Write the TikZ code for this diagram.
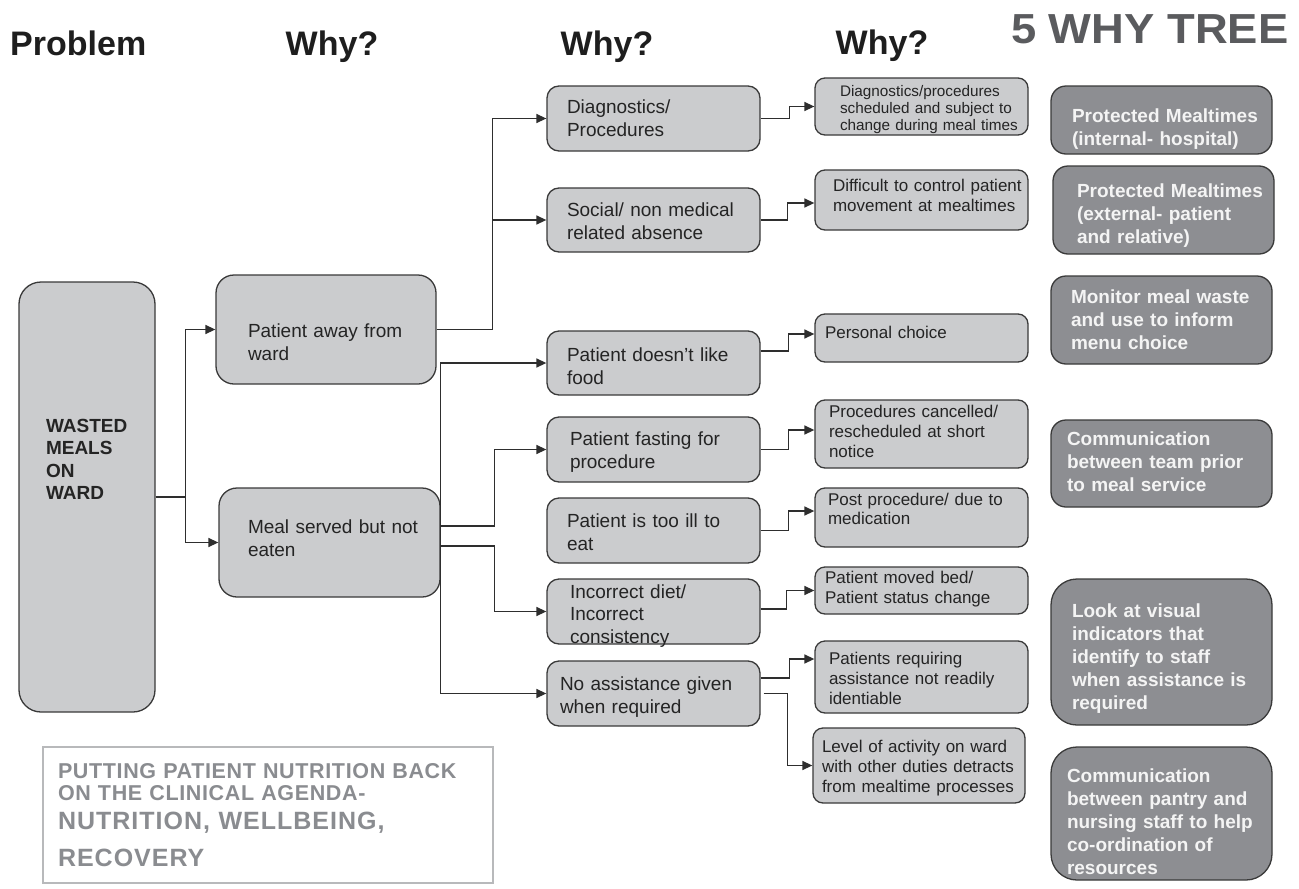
\documentclass[tikz,border=0pt]{standalone}
\usepackage{fontspec}
\setmainfont{Liberation Sans}
\usepackage{graphicx}
\usetikzlibrary{arrows.meta}
\definecolor{boxfill}{HTML}{CBCCCE}
\definecolor{rfill}{HTML}{8D8E92}
\definecolor{edge}{HTML}{3A3A3A}
\definecolor{txt}{HTML}{242424}
\definecolor{hdrc}{HTML}{1E1E1E}
\definecolor{titlec}{HTML}{5A5B5E}
\definecolor{grayt}{HTML}{8A8C90}
\definecolor{framec}{HTML}{B8B9BB}
\definecolor{linec}{HTML}{2E2E2E}
\definecolor{rtext}{HTML}{F4F4F4}
\tikzset{
  basebox/.style={draw=edge, line width=1.3pt, inner xsep=0pt, inner ysep=0pt, align=left},
  pbox/.style={basebox, fill=boxfill, text=txt, rounded corners=22pt, font=\bfseries\fontsize{19}{22.5}\selectfont},
  bbox/.style={basebox, fill=boxfill, text=txt, rounded corners=18pt, font=\fontsize{19}{23}\selectfont},
  cbox/.style={basebox, fill=boxfill, text=txt, rounded corners=12pt, minimum width=213pt, font=\fontsize{19}{23.5}\selectfont},
  ebox/.style={basebox, fill=boxfill, text=txt, rounded corners=10pt, font=\fontsize{17}{20}\selectfont},
  rbox/.style={basebox, fill=rfill, text=rtext, minimum width=221pt, font=\bfseries\fontsize{19}{23}\selectfont},
  hdr/.style={text=hdrc, inner sep=0pt, font=\bfseries\fontsize{34}{38}\selectfont},
  conn/.style={draw=linec, line width=1.4pt, -{Triangle[length=10pt,width=9pt]}},
}
\begin{document}
\begin{tikzpicture}[x=1pt,y=-1pt]
\useasboundingbox[fill=white] (0,0) rectangle (1299,889);

% headers
\node[hdr, anchor=base west] (hprob) at (10,55) {Problem};
\node[hdr, anchor=base] (hwhy1) at (332,55) {Why?};
\node[hdr, anchor=base] (hwhy2) at (607,55) {Why?};
\node[hdr, anchor=base] (hwhy3) at (882,54) {Why?};
\node[anchor=base west, inner sep=0pt, text=titlec, font=\bfseries\fontsize{42}{48}\selectfont] (title) at (1011,43) {\scalebox{1.08}[1]{5 WHY TREE}};

% problem
\node[pbox, minimum width=136pt, text width=82pt, text height=150pt, text depth=280pt] (a) at (87,497)
  {\mbox{WASTED}\\\mbox{MEALS}\\\mbox{ON}\\\mbox{WARD}};

% column 2
\node[bbox, minimum width=220pt, text width=156pt, text height=62pt, text depth=47pt] (b1) at (326,329.5)
  {\mbox{Patient away from}\\\mbox{ward}};
\node[bbox, minimum width=221pt, text width=163pt, text height=45pt, text depth=64pt] (b2) at (329.5,542.5)
  {\mbox{Meal served but not}\\\mbox{eaten}};

% column 3
\node[cbox, text width=173pt, text height=27pt, text depth=38pt] (c1) at (653.5,118.5)
  {\mbox{Diagnostics/}\\\mbox{Procedures}};
\node[cbox, text width=173pt, text height=28pt, text depth=36pt] (c2) at (653.5,220)
  {\mbox{Social/ non medical}\\\mbox{related absence}};
\node[cbox, text width=173pt, text height=30pt, text depth=34pt] (c3) at (653.5,363)
  {\mbox{Patient doesn’t like}\\\mbox{food}};
\node[cbox, text width=167pt, text height=28pt, text depth=37pt] (c4) at (653.5,449.5)
  {\mbox{Patient fasting for}\\\mbox{procedure}};
\node[cbox, text width=173pt, text height=29pt, text depth=36pt] (c5) at (653.5,530.5)
  {\mbox{Patient is too ill to}\\\mbox{eat}};
\node[cbox, text width=167pt, text height=19pt, text depth=46pt, font=\fontsize{19}{22.5}\selectfont] (c6) at (653.5,611.5)
  {\mbox{Incorrect diet/}\\\mbox{Incorrect}\\\mbox{consistency}};
\node[cbox, text width=187pt, text height=29pt, text depth=36pt] (c7) at (653.5,693.5)
  {\mbox{No assistance given}\\\mbox{when required}};

% column 4
\node[ebox, minimum width=213pt, text width=163pt, text height=18pt, text depth=39pt, font=\fontsize{15.3}{17}\selectfont] (e1) at (921.5,106.5)
  {\mbox{Diagnostics/procedures}\\\mbox{scheduled and subject to}\\\mbox{change during meal times}};
\node[ebox, minimum width=213pt, text width=177pt, text height=21pt, text depth=39pt] (e2) at (921.5,200)
  {\mbox{Difficult to control patient}\\\mbox{movement at mealtimes}};
\node[ebox, minimum width=213pt, text width=193pt, text height=24pt, text depth=24pt] (e3) at (921.5,338)
  {\mbox{Personal choice}};
\node[ebox, minimum width=213pt, text width=185pt, text height=17pt, text depth=51pt] (e4) at (921.5,434)
  {\mbox{Procedures cancelled/}\\\mbox{rescheduled at short}\\\mbox{notice}};
\node[ebox, minimum width=213pt, text width=187pt, text height=17pt, text depth=42pt, font=\fontsize{17}{19}\selectfont] (e5) at (921.5,517.5)
  {\mbox{Post procedure/ due to}\\\mbox{medication}};
\node[ebox, minimum width=213pt, text width=193pt, text height=16pt, text depth=31pt] (e6) at (921.5,590.5)
  {\mbox{Patient moved bed/}\\\mbox{Patient status change}};
\node[ebox, minimum width=213pt, text width=185pt, text height=23pt, text depth=49pt] (e7) at (921.5,677)
  {\mbox{Patients requiring}\\\mbox{assistance not readily}\\\mbox{identiable}};
\node[ebox, minimum width=212pt, text width=194pt, text height=24pt, text depth=51pt] (e8) at (919,765.5)
  {\mbox{Level of activity on ward}\\\mbox{with other duties detracts}\\\mbox{from mealtime processes}};

% right column
\node[rbox, rounded corners=15pt, text width=179pt, text height=36pt, text depth=32pt] (r1) at (1161.5,120)
  {\mbox{Protected Mealtimes}\\\mbox{(internal- hospital)}};
\node[rbox, rounded corners=15pt, text width=173pt, text height=31pt, text depth=57pt] (r2) at (1163.5,210)
  {\mbox{Protected Mealtimes}\\\mbox{(external- patient}\\\mbox{and relative)}};
\node[rbox, rounded corners=15pt, text width=181pt, text height=27pt, text depth=61pt] (r3) at (1161.5,320)
  {\mbox{Monitor meal waste}\\\mbox{and use to inform}\\\mbox{menu choice}};
\node[rbox, rounded corners=15pt, text width=189pt, text height=25pt, text depth=62pt] (r4) at (1161.5,463.5)
  {\mbox{Communication}\\\mbox{between team prior}\\\mbox{to meal service}};
\node[rbox, rounded corners=26pt, text width=179pt, text height=38pt, text depth=108pt] (r5) at (1161.5,652)
  {\mbox{Look at visual}\\\mbox{indicators that}\\\mbox{identify to staff}\\\mbox{when assistance is}\\\mbox{required}};
\node[rbox, rounded corners=26pt, text width=189pt, text height=35pt, text depth=98pt] (r6) at (1161.5,813.5)
  {\mbox{Communication}\\\mbox{between pantry and}\\\mbox{nursing staff to help}\\\mbox{co-ordination of}\\\mbox{resources}};

% bottom-left banner
\node[draw=framec, line width=1.3pt, fill=white, inner xsep=0pt, inner ysep=0pt, align=left, text=grayt,
      font=\bfseries, minimum width=450pt, text width=420pt, text height=31pt, text depth=105pt] (banner) at (268,815)
  {{\fontsize{21.5}{22}\selectfont\addfontfeatures{LetterSpace=3}\spaceskip=0.33em\relax
    \mbox{PUTTING PATIENT NUTRITION BACK}\\\mbox{ON THE CLINICAL AGENDA-}\par}%
   {\fontsize{25}{29}\selectfont\addfontfeatures{LetterSpace=4}\spaceskip=0.34em\relax
    \mbox{NUTRITION, WELLBEING,}\\[8pt]\mbox{RECOVERY}\par}};

% connectors: problem -> why 1
\draw[conn] (a.east) -- ++(30,0) |- (b1.west);
\draw[conn] (a.east) -- ++(30,0) |- (b2.west);

% why 1 -> why 2
\draw[conn] (b1.east) -- ++(56,0) |- (c1.west);
\draw[conn] (b1.east) -- ++(56,0) |- (c2.west);
\draw[conn] (b2.east) |- (c3.west);
\draw[conn] (b2.east) |- (c7.west);
\draw[conn] ([yshift=16.5pt]b2.east) -- ++(54,0) |- (c4.west);
\draw[conn] ([yshift=-3.5pt]b2.east) -- ++(54,0) |- (c6.west);

% why 2 -> why 3
\draw[conn] (c1.east) -- ++(29,0) |- (e1.west);
\draw[conn] (c2.east) -- ++(27,0) |- ([yshift=-3pt]e2.west);
\draw[conn] ([yshift=12pt]c3.east) -- ++(28,0) |- ([yshift=4pt]e3.west);
\draw[conn] (c4.east) -- ++(28,0) |- ([yshift=4pt]e4.west);
\draw[conn] (c5.east) -- ++(28,0) |- ([yshift=6.5pt]e5.west);
\draw[conn] ([yshift=2.5pt]c6.east) -- ++(26,0) |- (e6.west);
\draw[conn] ([yshift=15.5pt]c7.east) -- ++(29,0) |- ([yshift=18pt]e7.west);
\draw[conn] ([xshift=3pt]c7.east) -- ++(24,0) |- (e8.west);
\end{tikzpicture}
\end{document}
